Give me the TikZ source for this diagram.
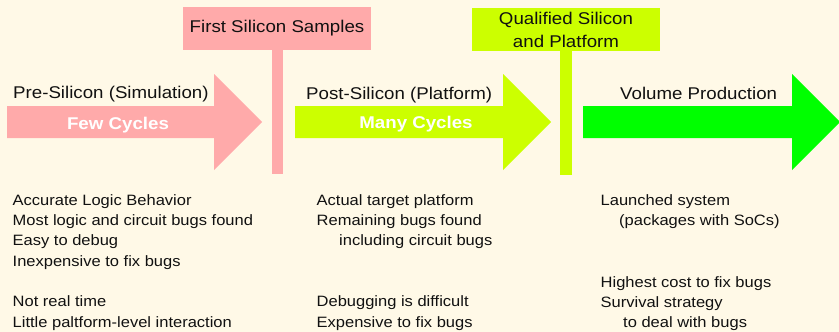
\documentclass[tikz,border=0pt]{standalone}
\usepackage{fontspec}
\setmainfont[FakeStretch=1.1]{Liberation Sans}
\definecolor{bgc}{RGB}{255,249,231}
\definecolor{pinkc}{RGB}{255,170,170}
\definecolor{limec}{RGB}{204,255,0}
\definecolor{greenc}{RGB}{0,255,0}
\definecolor{txtc}{RGB}{17,17,17}
\begin{document}
\begin{tikzpicture}[x=1pt,y=-1pt,
  body/.style={anchor=base west,inner sep=0pt,text=txtc,font=\fontsize{15}{18}\selectfont},
  head/.style={anchor=base west,inner sep=0pt,text=txtc,font=\fontsize{17}{20}\selectfont},
  inner/.style={anchor=base,inner sep=0pt,text=white,font=\bfseries\fontsize{17}{20}\selectfont},
  milestone/.style={inner sep=0pt,text=txtc,font=\fontsize{17}{23}\selectfont,align=center}]
\useasboundingbox (0,0) rectangle (839,332);
\fill[bgc] (0,0) rectangle (839,332);
% arrows
\fill[pinkc] (7,106) -- (214,106) -- (214,74) -- (262,122) -- (214,170) -- (214,138) -- (7,138) -- cycle;
\fill[limec] (295,106) -- (503,106) -- (503,74) -- (551,122) -- (503,170) -- (503,138) -- (295,138) -- cycle;
\fill[greenc] (583,106) -- (792,106) -- (792,74) -- (840,122) -- (792,170) -- (792,138) -- (583,138) -- cycle;
% milestone poles and boxes
\fill[pinkc] (272,50) rectangle (283,174);
\fill[pinkc] (183,7) rectangle (371,50);
\node[milestone] (m1) at (277,28) {First Silicon Samples};
\fill[limec] (560,50) rectangle (572,175);
\fill[limec] (472,8) rectangle (660,51);
\node[milestone] (m2) at (566,29.5) {Qualified Silicon\\and Platform};
% phase labels
\node[head] (h1) at (13,98) {Pre-Silicon (Simulation)};
\node[head] (h2) at (306,99) {Post-Silicon (Platform)};
\node[head] (h3) at (620,99) {Volume Production};
\node[inner] (c1) at (118,129) {Few Cycles};
\node[inner] (c2) at (416,128) {Many Cycles};
% left column
\node[body] (l1) at (12.5,205) {Accurate Logic Behavior};
\node[body] (l2) at (12.5,225) {Most logic and circuit bugs found};
\node[body] (l3) at (12.5,245.5) {Easy to debug};
\node[body] (l4) at (12.5,266) {Inexpensive to fix bugs};
\node[body] (l5) at (12.5,306.5) {Not real time};
\node[body] (l6) at (12.5,327) {Little paltform-level interaction};
% middle column
\node[body] (p1) at (316.5,205) {Actual target platform};
\node[body] (p2) at (316.5,225) {Remaining bugs found};
\node[body] (p3) at (339,245.5) {including circuit bugs};
\node[body] (p4) at (316.5,306.5) {Debugging is difficult};
\node[body] (p5) at (316.5,327) {Expensive to fix bugs};
% right column
\node[body] (v1) at (600.5,205.5) {Launched system};
\node[body] (v2) at (619,225.5) {(packages with SoCs)};
\node[body] (v3) at (600.5,287) {Highest cost to fix bugs};
\node[body] (v4) at (600.5,307) {Survival strategy};
\node[body] (v5) at (623,327.5) {to deal with bugs};
\end{tikzpicture}
\end{document}
